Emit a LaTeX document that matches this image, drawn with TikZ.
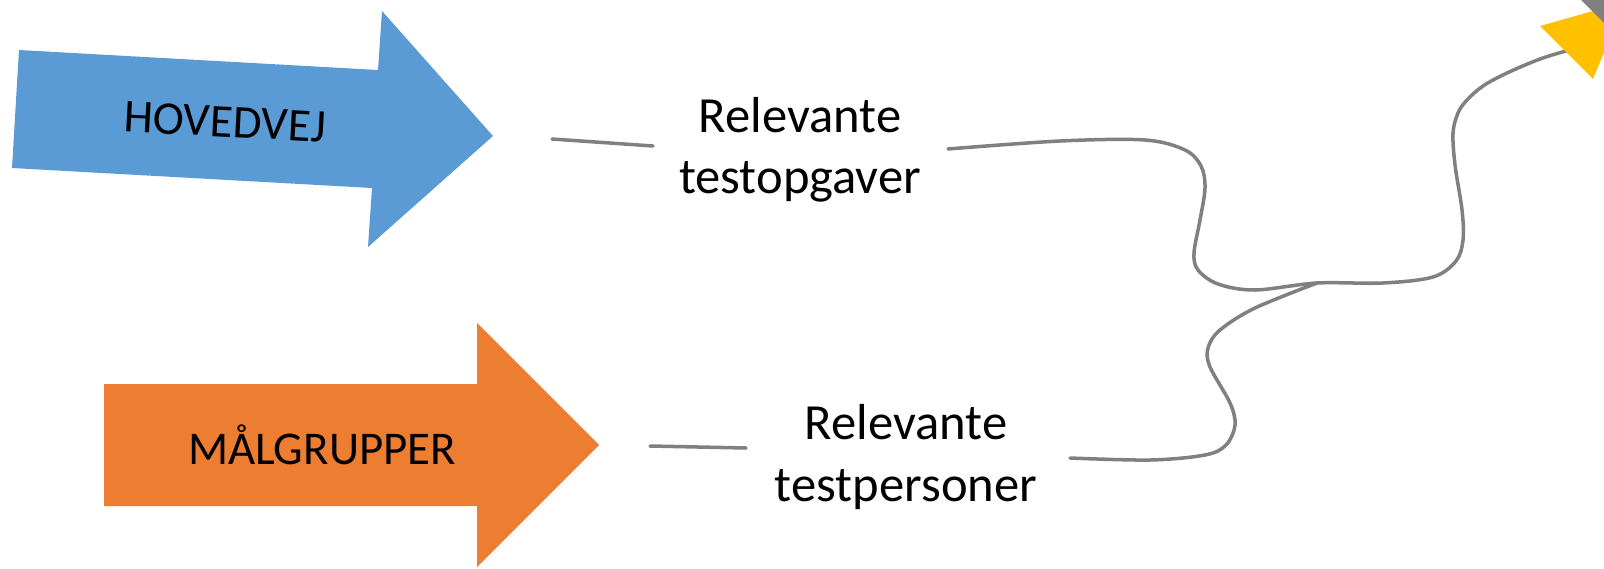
\documentclass[tikz,border=0pt]{standalone}
\usepackage{fontspec}
\setmainfont{Carlito}
\definecolor{hovedblue}{HTML}{5B9BD5}
\definecolor{maalorange}{HTML}{ED7D31}
\definecolor{goalyellow}{HTML}{FFC000}
\definecolor{linkgray}{HTML}{808080}

\begin{document}
\begin{tikzpicture}[x=0.02cm, y=-0.02cm]
			\useasboundingbox (0,0) rectangle (1604,568);
			\clip (0,0) rectangle (1604,568);
			\begin{scope}
			\tikzstyle{every node}=[align=center, inner sep=0pt, font=\fontsize{26.7}{31}\selectfont]
			\tikzstyle{label}=[font=\fontsize{28.8}{35}\selectfont]
			\tikzstyle{link}=[draw=linkgray, line width=2pt, line cap=round]
				\fill[hovedblue] (19,50) -- (378,70) -- (382,11) -- (493,136) -- (368,247) -- (372,188) -- (12,168) -- cycle;
				\fill[maalorange] (104,384) -- (477,384) -- (477,323) -- (599,445) -- (477,567) -- (477,506) -- (104,506) -- cycle;
				\node[rotate=-3] (hovedvej) at (225,122) {HOVEDVEJ};
				\node (maal) at (322,445) {MÅLGRUPPER};
				\node[label] (opgaver) at (800,150) {Relevante\\testopgaver};
				\node[label] (personer) at (906,457) {Relevante\\testpersoner};

				\coordinate (h1) at (552,139);
				\coordinate (h2) at (653,146);
				\coordinate (m1) at (650,446);
				\coordinate (m2) at (746,448);
				\coordinate (o1) at (948,149);
				\coordinate (p1) at (1070,458);
				\coordinate (join) at (1317,283);
				\coordinate (goal) at (1566,51);

				\draw[link] (h1) -- (h2);
				\draw[link] (m1) -- (m2);
				\draw[link] plot[smooth, tension=0.55] coordinates {(o1) (1060,141) (1145,140) (1185,150) (1201,166) (1205,188) (1200,220) (1194,253) (1198,270) (1218,284) (1255,290) (join) (1383,283) (1433,277) (1456,261) (1463,240) (1462,210) (1455,165) (1453,133) (1458,113) (1467,100) (1483,86) (1507,73) (1540,59) (goal)};
				\draw[link] plot[smooth, tension=0.55] coordinates {(p1) (1150,460) (1205,455) (1226,445) (1235,425) (1230,403) (1210,367) (1208,348) (1220,330) (1255,308) (join)};

				\fill[goalyellow] (1540,26) -- (1625,2) -- (1593,79) -- cycle;
				\fill[linkgray] (1581,0) -- (1660,79) -- (1660,-10) -- (1571,-10) -- cycle;
			\end{scope}
		\end{tikzpicture}
\end{document}
